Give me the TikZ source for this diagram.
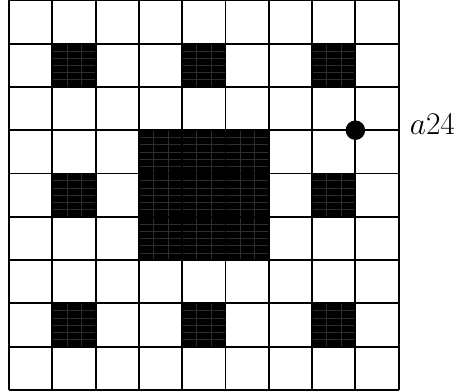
\documentclass[tikz,border=0pt]{standalone}
\begin{document}
\begin{tikzpicture}[x=1cm,y=1cm,
  gridline/.style={line width=1.2pt,black},
  fine/.style={line width=0.3pt,black!82},
  blackcell/.style={fill=black},
  dot/.style={circle,fill=black,inner sep=0pt,minimum size=0.45cm},
  lab/.style={anchor=base west,inner sep=0pt,font=\fontsize{21}{25}\selectfont}]
\useasboundingbox (-0.208,-0.046) rectangle (10.37,9.007);
% small black cells
\foreach \x/\y in {1/1,4/1,7/1,1/4,7/4,1/7,4/7,7/7}{
  \fill[blackcell] (\x,\y) rectangle ++(1,1);
  \draw[fine] (\x,\y) grid[xstep=0.3333,ystep=0.16667] ++(1,1);
}
% central black square
\fill[blackcell] (3,3) rectangle (6,6);
\draw[fine] (3,3) grid[xstep=0.3333,ystep=0.16667] (6,6);
% main grid
\draw[gridline] (0,0) grid (9,9);
% marked point
\node[dot] (p) at (8,6) {};
\node[lab] (l) at (9.25,5.9) {$a24$};
\end{tikzpicture}
\end{document}
